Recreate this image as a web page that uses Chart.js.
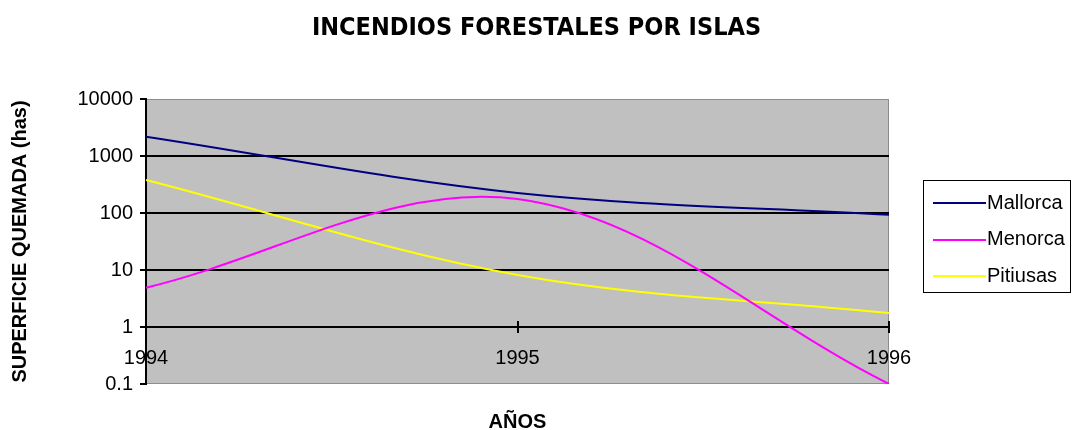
<!DOCTYPE html>
<html>
<head>
<meta charset="utf-8">
<script src="https://cdn.jsdelivr.net/npm/chart.js@4.4.0/dist/chart.umd.min.js"></script>
<style>
html,body{margin:0;padding:0;background:#fff;}
canvas{display:block;}
</style>
</head>
<body>
<canvas id="c" width="1073" height="430"></canvas>
<script>
// ---- data ----
const years = ['1994', '1995', '1996'];
const mallorca = [2180, 225, 93];
const menorca = [4.9, 176, 0.1];
const pitiusas = [379, 8.2, 1.76];
const yTicks = [0.1, 1, 10, 100, 1000, 10000];
const seriesNames = ['Mallorca', 'Menorca', 'Pitiusas'];
const seriesColors = ['#000080', '#FF00FF', '#FFFF00'];

const FONT = '"Liberation Sans", Arial, sans-serif';
const TITLE_FONT = '"Liberation Sans Narrow", "Arial Narrow", "DejaVu Sans Condensed", sans-serif';

const plotBg = {
  id: 'plotBg',
  beforeDraw(chart) {
    const {ctx, chartArea: a} = chart;
    ctx.save();
    ctx.fillStyle = '#C0C0C0';
    ctx.fillRect(a.left, a.top, a.right - a.left, a.bottom - a.top);
    ctx.strokeStyle = '#8c8c8c';
    ctx.lineWidth = 1;
    ctx.strokeRect(a.left + 0.5, a.top + 0.5, a.right - a.left - 1, a.bottom - a.top - 1);
    ctx.restore();
  },
  beforeDatasetsDraw(chart) {
    const {ctx} = chart;
    const xs = chart.scales.x;
    const y = Math.round(chart.scales.y.getPixelForValue(1));
    ctx.save();
    ctx.strokeStyle = '#000';
    ctx.lineWidth = 2;
    ctx.beginPath();
    xs.ticks.forEach((t, i) => {
      const px = Math.round(xs.getPixelForTick(i));
      ctx.moveTo(px, y - 6);
      ctx.lineTo(px, y + 6);
    });
    ctx.stroke();
    ctx.restore();
  }
};

const boxLegend = {
  id: 'boxLegend',
  afterDraw(chart) {
    const {ctx} = chart;
    const bx = 923.5, by = 180.5, bw = 147, bh = 112;
    ctx.save();
    ctx.fillStyle = '#fff';
    ctx.fillRect(bx, by, bw, bh);
    ctx.strokeStyle = '#000';
    ctx.lineWidth = 1;
    ctx.strokeRect(bx, by, bw, bh);
    ctx.font = '20px ' + FONT;
    ctx.textBaseline = 'middle';
    ctx.textAlign = 'left';
    chart.data.datasets.forEach((ds, i) => {
      const yy = 203 + i * 36.5;
      ctx.strokeStyle = ds.borderColor;
      ctx.lineWidth = 2;
      ctx.beginPath();
      ctx.moveTo(933, Math.round(yy));
      ctx.lineTo(986, Math.round(yy));
      ctx.stroke();
      ctx.fillStyle = '#000';
      ctx.fillText(ds.label, 987, yy);
    });
    ctx.restore();
  }
};

const series = [mallorca, menorca, pitiusas];

new Chart(document.getElementById('c'), {
  type: 'line',
  data: {
    labels: years,
    datasets: series.map((d, i) => ({
      label: seriesNames[i],
      data: d,
      xAxisID: 'x',
      yAxisID: 'y',
      borderColor: seriesColors[i],
      backgroundColor: seriesColors[i],
      borderWidth: 2,
      pointRadius: 0,
      tension: 0.35,
      fill: false
    }))
  },
  options: {
    responsive: false,
    animation: false,
    devicePixelRatio: 1,
    layout: {padding: 0},
    plugins: {
      legend: {display: false},
      tooltip: {enabled: false},
      title: {
        display: true,
        text: 'INCENDIOS FORESTALES POR ISLAS',
        color: '#000',
        font: {family: TITLE_FONT, size: 25, weight: 'bold', lineHeight: 1.2},
        padding: {top: 13, bottom: 56}
      }
    },
    scales: {
      x: {
        type: 'category',
        offset: false,
        position: {y: 1},
        grid: {display: true, drawOnChartArea: false, drawTicks: false, color: '#000', lineWidth: 2},
        border: {display: true, color: '#000', width: 2},
        ticks: {
          color: '#000',
          font: {family: FONT, size: 20},
          padding: 19,
          maxRotation: 0,
          autoSkip: false
        }
      },
      x2: {
        type: 'category',
        position: 'bottom',
        labels: years,
        grid: {display: false},
        border: {display: false},
        ticks: {display: false},
        title: {
          display: true,
          text: 'AÑOS',
          color: '#000',
          font: {family: FONT, size: 20, weight: 'bold'},
          padding: {top: 0, bottom: -4}
        },
        afterFit(s) { s.height = 46; }
      },
      y: {
        type: 'logarithmic',
        min: 0.1,
        max: 10000,
        position: 'left',
        afterBuildTicks(s) { s.ticks = yTicks.map(v => ({value: v})); },
        afterFit(s) { s.width = 146; },
        grid: {
          color: ctx => (ctx.tick && (ctx.tick.value === 0.1 || ctx.tick.value === 10000)) ? 'rgba(0,0,0,0)' : '#000',
          tickColor: '#000',
          lineWidth: 2,
          tickLength: 6
        },
        border: {display: true, color: '#000', width: 2},
        ticks: {
          color: '#000',
          font: {family: FONT, size: 20},
          padding: 7,
          callback: v => String(v)
        },
        title: {
          display: true,
          text: 'SUPERFICIE QUEMADA (has)',
          color: '#000',
          font: {family: FONT, size: 20, weight: 'bold'},
          padding: {top: 8, bottom: 0}
        }
      },
      yR: {
        type: 'linear',
        position: 'right',
        grid: {display: false},
        border: {display: false},
        ticks: {display: false},
        afterFit(s) { s.width = 184; }
      }
    }
  },
  plugins: [plotBg, boxLegend]
});
</script>
</body>
</html>
